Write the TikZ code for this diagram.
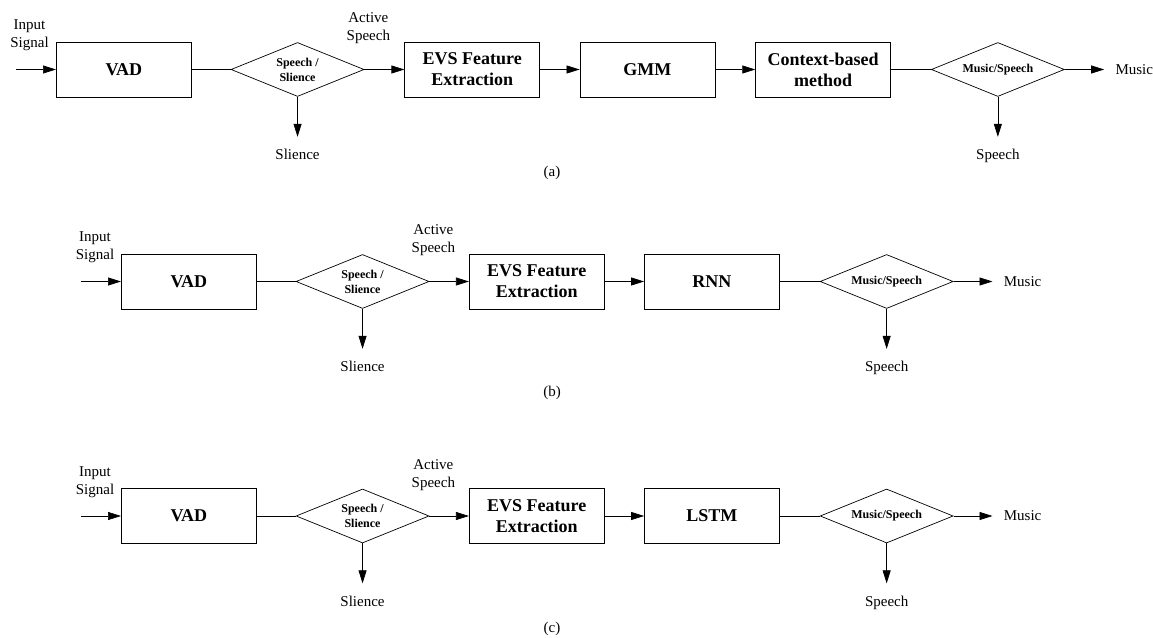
\documentclass[tikz,border=0pt]{standalone}
\usepackage{fontspec}
\setmainfont{Liberation Serif}
\usetikzlibrary{positioning,shapes.geometric,arrows.meta}
\tikzset{
  blk/.style={draw,minimum width=135pt,minimum height=55pt,inner sep=0pt,align=center,font=\fontsize{18}{21}\selectfont\bfseries},
  dec/.style={draw,diamond,aspect=2.46,minimum width=133pt,minimum height=54pt,inner sep=0pt,align=center,font=\fontsize{12}{15}\selectfont\bfseries},
  lbl/.style={inner sep=0pt,align=center,font=\fontsize{15}{18}\selectfont},
  flow/.style={-{Triangle[length=13pt,width=8pt]}}
}
\begin{document}
\begin{tikzpicture}[x=1pt,y=1pt,line width=0.7pt]
\useasboundingbox (0,0) rectangle (1153,637);
\coordinate (inA) at (16,567.5);
\node[blk,right=40pt of inA] (vadA) {VAD};
\node[dec,right=39pt of vadA] (sdA) {Speech /\\Slience};
\node[blk,right=40pt of sdA] (evsA) {EVS Feature\\Extraction};
\node[blk,right=39.5pt of evsA] (gmmA) {GMM};
\node[blk,right=40pt of gmmA] (ctxA) {Context-based\\method};
\node[dec,right=40pt of ctxA] (msA) {Music/Speech};
\coordinate[right=39.5pt of msA] (muA);
\coordinate[below=40pt of sdA] (slA);
\coordinate[below=40pt of msA] (spA);
\draw[flow] (inA) -- (vadA);
\draw (vadA) -- (sdA);
\draw[flow] (sdA) -- (evsA);
\draw[flow] (evsA) -- (gmmA);
\draw[flow] (gmmA) -- (ctxA);
\draw (ctxA) -- (msA);
\draw[flow] (msA) -- (muA);
\draw[flow] (sdA) -- (slA);
\draw[flow] (msA) -- (spA);
\node[lbl] (isA) at ([shift={(13.5,34)}]inA) {Input\\Signal};
\node[lbl] (asA) at ([shift={(4,41)}]sdA.east) {Active\\Speech};
\node[lbl,below=12pt of slA] (slT) {Slience};
\node[lbl,below=12pt of spA] (spT) {Speech};
\node[lbl,right=11pt of muA] (muT) {Music};
\node[lbl] (capA) at (552,464) {(a)};

\coordinate (inB) at (81,355.5);
\node[blk,right=40pt of inB] (vadB) {VAD};
\node[dec,right=39pt of vadB] (sdB) {Speech /\\Slience};
\node[blk,right=39.5pt of sdB] (evsB) {EVS Feature\\Extraction};
\node[blk,right=39.5pt of evsB] (rnnB) {RNN};
\node[dec,right=40pt of rnnB] (msB) {Music/Speech};
\coordinate[right=39pt of msB] (muB);
\coordinate[below=40pt of sdB] (slB);
\coordinate[below=40pt of msB] (spB);
\draw[flow] (inB) -- (vadB);
\draw (vadB) -- (sdB);
\draw[flow] (sdB) -- (evsB);
\draw[flow] (evsB) -- (rnnB);
\draw (rnnB) -- (msB);
\draw[flow] (msB) -- (muB);
\draw[flow] (sdB) -- (slB);
\draw[flow] (msB) -- (spB);
\node[lbl] (isB) at ([shift={(14,34)}]inB) {Input\\Signal};
\node[lbl] (asB) at ([shift={(4,41)}]sdB.east) {Active\\Speech};
\node[lbl,below=12pt of slB] (slU) {Slience};
\node[lbl,below=12pt of spB] (spU) {Speech};
\node[lbl,right=11pt of muB] (muU) {Music};
\node[lbl] (capB) at (552,244) {(b)};

\coordinate (inC) at (81,121);
\node[blk,right=40pt of inC] (vadC) {VAD};
\node[dec,right=39pt of vadC] (sdC) {Speech /\\Slience};
\node[blk,right=39.5pt of sdC] (evsC) {EVS Feature\\Extraction};
\node[blk,right=39.5pt of evsC] (lstmC) {LSTM};
\node[dec,right=40pt of lstmC] (msC) {Music/Speech};
\coordinate[right=39pt of msC] (muC);
\coordinate[below=40pt of sdC] (slC);
\coordinate[below=40pt of msC] (spC);
\draw[flow] (inC) -- (vadC);
\draw (vadC) -- (sdC);
\draw[flow] (sdC) -- (evsC);
\draw[flow] (evsC) -- (lstmC);
\draw (lstmC) -- (msC);
\draw[flow] (msC) -- (muC);
\draw[flow] (sdC) -- (slC);
\draw[flow] (msC) -- (spC);
\node[lbl] (isC) at ([shift={(14,34)}]inC) {Input\\Signal};
\node[lbl] (asC) at ([shift={(4,41)}]sdC.east) {Active\\Speech};
\node[lbl,below=12pt of slC] (slV) {Slience};
\node[lbl,below=12pt of spC] (spV) {Speech};
\node[lbl,right=11pt of muC] (muV) {Music};
\node[lbl] (capC) at (552,8) {(c)};
\end{tikzpicture}
\end{document}
